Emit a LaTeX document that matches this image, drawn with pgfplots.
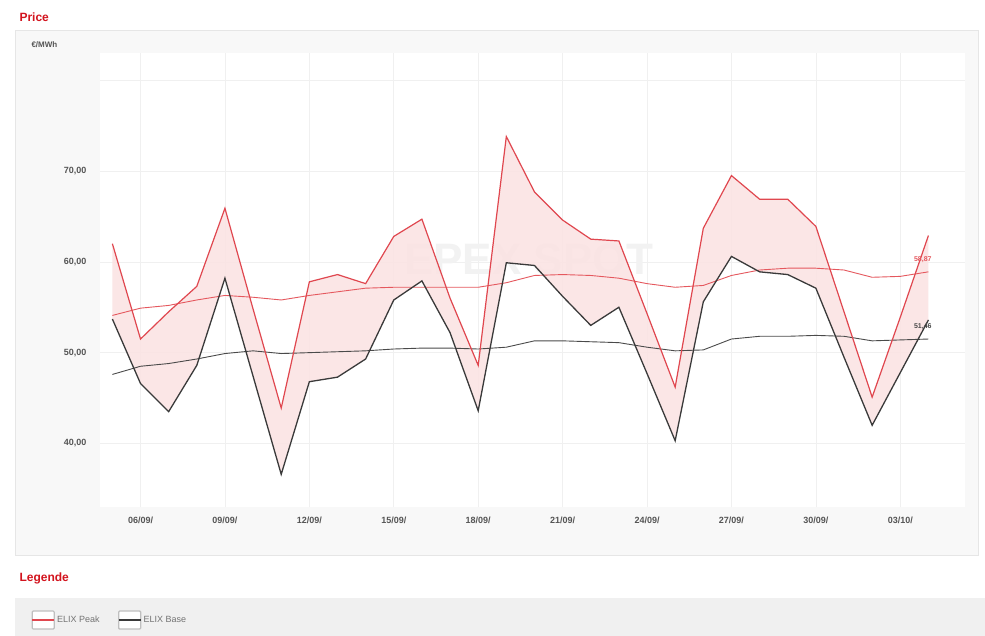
\documentclass[border=0pt]{standalone}
\usepackage{pgfplots}
\usepackage{pgfplotstable}
\pgfplotsset{compat=1.18}
\usepackage{fontspec}
\setmainfont{Liberation Sans}

\definecolor{titlered}{HTML}{D3141E}
\definecolor{peakred}{HTML}{E0474F}
\definecolor{mared}{HTML}{E5585E}
\definecolor{basegray}{HTML}{3A3A3A}
\definecolor{magray}{HTML}{4A4A4A}
\definecolor{bandfill}{HTML}{FBE3E3}
\definecolor{ticktext}{HTML}{555555}
\definecolor{panelbg}{HTML}{F8F8F8}
\definecolor{panelline}{HTML}{E6E6E6}
\definecolor{legendbg}{HTML}{F0F0F0}

% day index (0 = 05/09) and prices in EUR/MWh
\pgfplotstableread{
x peak base peakma basema
0  62.0 53.7 54.1 47.6
1  51.5 46.6 54.9 48.5
2  54.5 43.5 55.2 48.8
3  57.3 48.6 55.8 49.3
4  65.9 58.2 56.3 49.9
5  54.8 47.4 56.1 50.2
6  43.9 36.6 55.8 49.9
7  57.8 46.8 56.3 50.0
8  58.6 47.3 56.7 50.1
9  57.6 49.3 57.1 50.2
10 62.8 55.8 57.2 50.4
11 64.7 57.9 57.2 50.5
12 56.0 52.2 57.2 50.5
13 48.6 43.6 57.2 50.4
14 73.8 59.9 57.7 50.6
15 67.7 59.6 58.5 51.3
16 64.6 56.2 58.6 51.3
17 62.5 53.0 58.5 51.2
18 62.3 55.0 58.2 51.1
19 54.3 47.7 57.6 50.6
20 46.2 40.3 57.2 50.2
21 63.7 55.6 57.4 50.3
22 69.5 60.6 58.5 51.5
23 66.9 58.9 59.1 51.8
24 66.9 58.6 59.3 51.8
25 63.9 57.1 59.3 51.9
26 54.5 49.5 59.1 51.8
27 45.1 42.0 58.3 51.3
28 53.9 47.8 58.4 51.4
29 62.9 53.6 58.9 51.5
}\prices

% band between peak and base: peak forward, then base backward
\pgfplotstableread{
x y
0 62.0
1 51.5
2 54.5
3 57.3
4 65.9
5 54.8
6 43.9
7 57.8
8 58.6
9 57.6
10 62.8
11 64.7
12 56.0
13 48.6
14 73.8
15 67.7
16 64.6
17 62.5
18 62.3
19 54.3
20 46.2
21 63.7
22 69.5
23 66.9
24 66.9
25 63.9
26 54.5
27 45.1
28 53.9
29 62.9
29 53.6
28 47.8
27 42.0
26 49.5
25 57.1
24 58.6
23 58.9
22 60.6
21 55.6
20 40.3
19 47.7
18 55.0
17 53.0
16 56.2
15 59.6
14 59.9
13 43.6
12 52.2
11 57.9
10 55.8
9 49.3
8 47.3
7 46.8
6 36.6
5 47.4
4 58.2
3 48.6
2 43.5
1 46.6
0 53.7
}\band

\begin{document}
\begin{tikzpicture}
\useasboundingbox (0pt,0pt) rectangle (985pt,-636pt);
\fill[white] (0pt,0pt) rectangle (985pt,-636pt);
% panel
\draw[panelline, fill=panelbg] (15pt,-30pt) rectangle (978pt,-555pt);
% legend band
\fill[legendbg] (15pt,-598pt) rectangle (985pt,-636pt);
\node[anchor=west, text=titlered, font=\fontsize{12}{14}\selectfont\bfseries] at (16pt,-17pt) {Price};
\node[anchor=west, text=titlered, font=\fontsize{12}{14}\selectfont\bfseries] at (16pt,-578pt) {Legende};
\node[anchor=west, text=ticktext, font=\fontsize{8}{10}\selectfont\bfseries] at (28pt,-45pt) {€/MWh};

\begin{axis}[
  at={(100pt,-507pt)}, anchor=south west,
  scale only axis, width=865pt, height=454pt,
  xmin=-0.44, xmax=30.3, ymin=33, ymax=83,
  axis background/.style={fill=white},
  axis line style={draw=none},
  major tick length=0pt,
  grid=major,
  major grid style={draw=black!6, line width=0.6pt},
  xtick={1,4,7,10,13,16,19,22,25,28},
  xticklabels={06/09/,09/09/,12/09/,15/09/,18/09/,21/09/,24/09/,27/09/,30/09/,03/10/},
  ytick={40,50,60,70,80},
  yticklabels={{40,00},{50,00},{60,00},{70,00},{}},
  tick label style={text=ticktext, font=\fontsize{9}{10}\selectfont\bfseries},
  xticklabel style={yshift=-6pt},
  yticklabel style={xshift=-10pt},
  legend style={at={(-0.0798,-0.249)}, anchor=west, draw=none, fill=none,
    inner sep=0pt, font=\fontsize{9}{10}\selectfont, text=black!55,
    /tikz/every even column/.append style={column sep=16pt}},
  legend columns=2,
  legend image code/.code={
    \draw[black!25, fill=white, rounded corners=1pt] (0pt,-9pt) rectangle (22pt,9pt);
    \draw[#1, line width=2pt] (0pt,0pt) -- (22pt,0pt);
  },
]
\node[text=black!5, font=\fontsize{44}{48}\selectfont\bfseries] at (axis cs:14.8,60.3) {EPEX SPOT};
\addplot[draw=none, fill=bandfill, fill opacity=0.88, forget plot] table[x=x, y=y] {\band} -- cycle;

\addplot[mared, line width=0.9pt, forget plot] table[x=x, y=peakma] {\prices};
\addplot[magray, line width=0.9pt, forget plot] table[x=x, y=basema] {\prices};

\addplot[peakred, line width=1.2pt] table[x=x, y=peak] {\prices};
\addlegendentry{ELIX Peak}
\addplot[basegray, line width=1.3pt] table[x=x, y=base] {\prices};
\addlegendentry{ELIX Base}

\node[text=mared, font=\fontsize{7}{8}\selectfont\bfseries] at (axis cs:28.8,60.2) {58,87};
\node[text=magray, font=\fontsize{7}{8}\selectfont\bfseries] at (axis cs:28.8,52.9) {51,46};
\end{axis}
\end{tikzpicture}
\end{document}
